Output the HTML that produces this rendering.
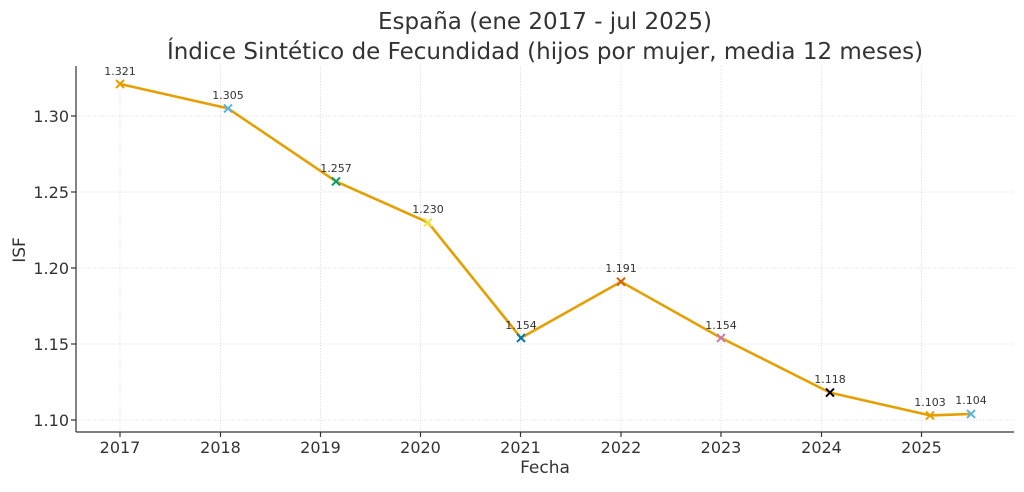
<!DOCTYPE html>
<html><head><meta charset="utf-8"><style>
html,body{margin:0;padding:0;background:#fff;}
text{font-family:"DejaVu Sans","Liberation Sans",sans-serif;fill:#333;}
</style></head><body>
<svg width="1024" height="487" viewBox="0 0 1024 487" xmlns="http://www.w3.org/2000/svg">
<rect width="1024" height="487" fill="#fff"/>
<text x="545" y="29" font-size="23" text-anchor="middle">España (ene 2017 - jul 2025)</text>
<text x="545" y="59" font-size="23" text-anchor="middle">Índice Sintético de Fecundidad (hijos por mujer, media 12 meses)</text>
<g stroke="#ddd" stroke-width="0.8" stroke-dasharray="1.5,1.5">
<line x1="76" x2="1014" y1="116" y2="116"/><line x1="76" x2="1014" y1="192" y2="192"/>
<line x1="76" x2="1014" y1="268" y2="268"/><line x1="76" x2="1014" y1="344" y2="344"/>
<line x1="76" x2="1014" y1="420" y2="420"/>
<line x1="120" x2="120" y1="66" y2="432"/><line x1="220.5" x2="220.5" y1="66" y2="432"/>
<line x1="320.5" x2="320.5" y1="66" y2="432"/><line x1="420.5" x2="420.5" y1="66" y2="432"/>
<line x1="520.5" x2="520.5" y1="66" y2="432"/><line x1="621" x2="621" y1="66" y2="432"/>
<line x1="721" x2="721" y1="66" y2="432"/><line x1="821.5" x2="821.5" y1="66" y2="432"/>
<line x1="921.5" x2="921.5" y1="66" y2="432"/>
</g>
<g stroke="#333" stroke-width="1.2">
<line x1="76" x2="76" y1="66" y2="432"/><line x1="76" x2="1014" y1="432" y2="432"/>
<line x1="71" x2="76" y1="116" y2="116"/><line x1="71" x2="76" y1="192" y2="192"/>
<line x1="71" x2="76" y1="268" y2="268"/><line x1="71" x2="76" y1="344" y2="344"/>
<line x1="71" x2="76" y1="420" y2="420"/>
<line x1="120" x2="120" y1="432" y2="437"/><line x1="220.5" x2="220.5" y1="432" y2="437"/>
<line x1="320.5" x2="320.5" y1="432" y2="437"/><line x1="420.5" x2="420.5" y1="432" y2="437"/>
<line x1="520.5" x2="520.5" y1="432" y2="437"/><line x1="621" x2="621" y1="432" y2="437"/>
<line x1="721" x2="721" y1="432" y2="437"/><line x1="821.5" x2="821.5" y1="432" y2="437"/>
<line x1="921.5" x2="921.5" y1="432" y2="437"/>
</g>
<g font-size="16" text-anchor="end">
<text x="69" y="122">1.30</text><text x="69" y="198">1.25</text><text x="69" y="274">1.20</text>
<text x="69" y="350">1.15</text><text x="69" y="426">1.10</text>
</g>
<g font-size="16" text-anchor="middle">
<text x="120" y="453">2017</text><text x="220.5" y="453">2018</text><text x="320.5" y="453">2019</text>
<text x="420.5" y="453">2020</text><text x="520.5" y="453">2021</text><text x="621" y="453">2022</text>
<text x="721" y="453">2023</text><text x="821.5" y="453">2024</text><text x="921.5" y="453">2025</text>
</g>
<text x="545" y="473" font-size="17" text-anchor="middle">Fecha</text>
<text transform="translate(25,250) rotate(-90)" font-size="17" text-anchor="middle">ISF</text>
<polyline fill="none" stroke="#e69f00" stroke-width="2.6" stroke-linejoin="round"
points="120,84 228,108.4 336,181.4 428,222.4 521,337.9 621,281.7 721,337.9 830,392.6 930,415.4 971,413.9"/>
<g stroke-width="2" fill="none">
<path d="M116,80l8,8M124,80l-8,8" stroke="#e69f00"/>
<path d="M224,104.4l8,8M232,104.4l-8,8" stroke="#56b4e9"/>
<path d="M332,177.4l8,8M340,177.4l-8,8" stroke="#009e73"/>
<path d="M424,218.4l8,8M432,218.4l-8,8" stroke="#f0e442"/>
<path d="M517,333.9l8,8M525,333.9l-8,8" stroke="#0072b2"/>
<path d="M617,277.7l8,8M625,277.7l-8,8" stroke="#d55e00"/>
<path d="M717,333.9l8,8M725,333.9l-8,8" stroke="#cc79a7"/>
<path d="M826,388.6l8,8M834,388.6l-8,8" stroke="#000"/>
<path d="M926,411.4l8,8M934,411.4l-8,8" stroke="#e69f00"/>
<path d="M967,409.9l8,8M975,409.9l-8,8" stroke="#56b4e9"/>
</g>
<g font-size="11" text-anchor="middle">
<text x="120" y="75">1.321</text><text x="228" y="99">1.305</text><text x="336" y="172">1.257</text>
<text x="428" y="213">1.230</text><text x="521" y="329">1.154</text><text x="621" y="272">1.191</text>
<text x="721" y="329">1.154</text><text x="830" y="383">1.118</text><text x="930" y="406">1.103</text>
<text x="971" y="404">1.104</text>
</g>
</svg>
</body></html>
